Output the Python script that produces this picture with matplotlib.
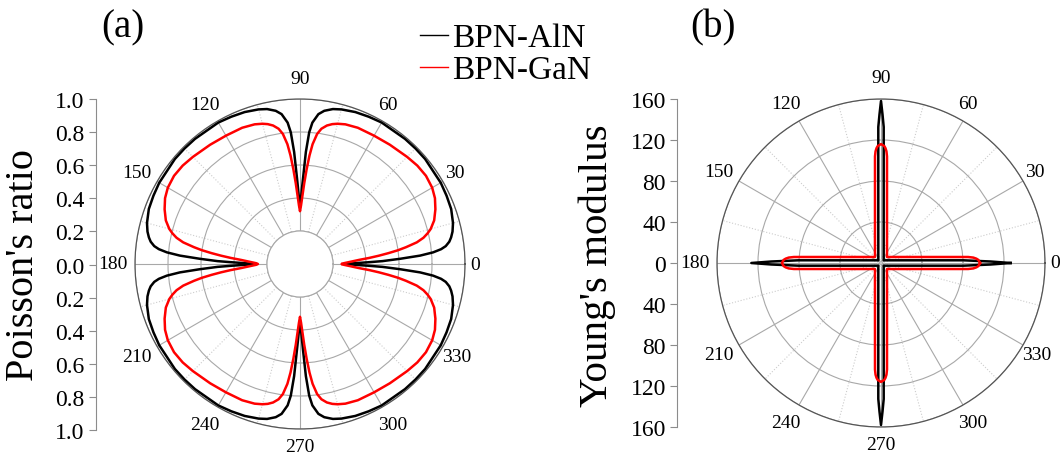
import numpy as np
import matplotlib
matplotlib.use("Agg")
import matplotlib.pyplot as plt

plt.rcParams['font.family'] = ['Liberation Serif', 'DejaVu Serif']

# Poisson's ratio, first quadrant (deg), the rest follows by symmetry
pr_ang_aln = [0, 0.5, 1, 1.5, 2, 3, 4, 5, 6, 7, 8.5, 10, 12, 15, 20, 25, 30, 40, 45, 50,
              60, 65, 70, 75, 78, 81, 83, 85, 86, 87, 87.5, 88, 88.5, 89, 89.5, 90]
pr_aln = [0.28, 0.30, 0.35, 0.42, 0.50, 0.61, 0.73, 0.81, 0.86, 0.89, 0.915, 0.93, 0.945, 0.96,
          0.975, 0.98, 0.985, 0.99, 0.99, 0.99, 0.99, 0.985, 0.98, 0.97, 0.96, 0.94, 0.915,
          0.86, 0.80, 0.68, 0.59, 0.52, 0.46, 0.41, 0.37, 0.345]
pr_ang_gan = [0, 1, 2, 3, 4, 5, 6, 7, 8, 9, 10.5, 12, 13.5, 15, 18, 22, 26, 30, 35, 40, 45,
              53, 60, 67, 72, 75, 77, 79, 81, 82.5, 84, 85, 86, 87, 88, 89, 90]
pr_gan = [0.255, 0.265, 0.29, 0.32, 0.36, 0.42, 0.48, 0.54, 0.60, 0.65, 0.72, 0.765, 0.795,
          0.82, 0.855, 0.885, 0.91, 0.925, 0.932, 0.928, 0.918, 0.905, 0.898, 0.897, 0.89,
          0.88, 0.87, 0.855, 0.83, 0.795, 0.73, 0.66, 0.575, 0.49, 0.41, 0.355, 0.32]

# Young's modulus, first quadrant
ym_ang_aln = [0, 0.78, 1.88, 45, 88.86, 89.42, 90]
ym_aln = [126.5, 107, 80.4, 3.7, 132.7, 145, 158]
ym_ang_gan = [0, 1.79, 2.61, 3.36, 3.94, 45, 86.78, 87.21, 87.77, 88.37, 90]
ym_gan = [96.6, 95.1, 93.1, 90.2, 85.2, 8.3, 104.2, 109.1, 112.1, 114.1, 116]

names = ['BPN-AlN', 'BPN-GaN']
colors = ['black', 'red']

theta_labels = list(range(0, 360, 30))
# where each angle label sits relative to the rim, in pixels
theta_offsets = [(10, 0), (12, 9.5), (5, 17), (0, 21), (-13, 17), (-20, 9.5), (-22, 0),
                 (-20, -9.5), (-13, -17.5), (0, -18), (10, -17.5), (14, -9.5)]


def full_curve(ang, val):
    ang = np.asarray(ang, float)
    val = np.asarray(val, float)
    th = np.concatenate([ang, 180 - ang[::-1], 180 + ang, 360 - ang[::-1]])
    r = np.concatenate([val, val[::-1], val, val[::-1]])
    return np.deg2rad(th), r


def style_polar(ax, rticks, rmax):
    ax.set_xticks(np.deg2rad(theta_labels))
    ax.set_xticklabels([])
    ax.set_xticks(np.deg2rad(np.arange(15, 360, 30)), minor=True)
    ax.set_yticks(rticks)
    ax.set_yticklabels([])
    ax.grid(True, which='major', color='#a8a8a8', lw=0.8, ls='-')
    ax.xaxis.grid(True, which='minor', color='#cccccc', lw=0.8, ls=':')
    ax.tick_params(axis='both', which='both', length=0)
    ax.spines['polar'].set_color('#555555')
    ax.spines['polar'].set_linewidth(0.9)
    for a, off in zip(theta_labels, theta_offsets):
        ax.annotate(str(a), xy=(np.deg2rad(a), rmax), xytext=off, textcoords='offset pixels',
                    ha='center', va='center', fontsize=14, annotation_clip=False)


def side_axis(rect, lim, ticks, fmt):
    axs = fig.add_axes(rect)
    axs.set_ylim(-lim, lim)
    axs.set_yticks(ticks)
    axs.set_yticklabels([fmt % abs(t) for t in ticks])
    axs.set_xticks([])
    for s in ['top', 'right', 'bottom']:
        axs.spines[s].set_visible(False)
    axs.spines['left'].set_color('#8c8c8c')
    axs.tick_params(axis='y', direction='out', length=5, width=0.8, color='#8c8c8c',
                    labelsize=17, pad=3)
    axs.patch.set_alpha(0)
    return axs


fig = plt.figure(figsize=(10.63, 4.56), dpi=100)

# (a) Poisson's ratio
ax1 = fig.add_axes([135 / 1063, 26 / 456, 330 / 1063, 330 / 456], projection='polar')
ax1.set_ylim(0.2, 1.0)
ax1.set_rorigin(0)
style_polar(ax1, [0.2, 0.4, 0.6, 0.8, 1.0], 1.0)
ax1.spines['inner'].set_color('#a8a8a8')
ax1.spines['inner'].set_linewidth(0.8)
for ang, val, c, n in [(pr_ang_aln, pr_aln, colors[0], names[0]),
                       (pr_ang_gan, pr_gan, colors[1], names[1])]:
    th, r = full_curve(ang, val)
    ax1.plot(th, r, color=c, lw=1.8, label=n)

pr_ticks = np.round(np.arange(-1.0, 1.01, 0.2), 1)
side_axis([95.5 / 1063, 25 / 456, 0.0005, 331 / 456], 1.0, pr_ticks, '%.1f')

# (b) Young's modulus
ax2 = fig.add_axes([717 / 1063, 28 / 456, 328 / 1063, 328 / 456], projection='polar')
ax2.set_ylim(0, 160)
style_polar(ax2, [40, 80, 120, 160], 160)
for ang, val, c in [(ym_ang_aln, ym_aln, colors[0]), (ym_ang_gan, ym_gan, colors[1])]:
    th, r = full_curve(ang, val)
    ax2.plot(th, r, color=c, lw=1.8)

ym_ticks = np.arange(-160, 161, 40)
side_axis([677 / 1063, 28 / 456, 0.0005, 328.5 / 456], 160, ym_ticks, '%d')

fig.text(24 / 1063, 1 - 265 / 456, "Poisson's ratio", rotation=90, ha='center', va='center',
         fontsize=29)
fig.text(597 / 1063, 1 - 266 / 456, "Young's modulus", rotation=90, ha='center', va='center',
         fontsize=29.5)
fig.text(123 / 1063, 1 - 28 / 456, '(a)', ha='center', va='center', fontsize=28)
fig.text(713 / 1063, 1 - 28 / 456, '(b)', ha='center', va='center', fontsize=28)

leg = fig.legend(*ax1.get_legend_handles_labels(), loc='center left',
                 bbox_to_anchor=(420 / 1063, 1 - 55 / 456), frameon=False, fontsize=24,
                 handlelength=0.85, handletextpad=0.12, labelspacing=0.05, borderpad=0,
                 borderaxespad=0)
for line in leg.get_lines():
    line.set_linewidth(1.0)

fig.savefig('out.png', dpi=100)
